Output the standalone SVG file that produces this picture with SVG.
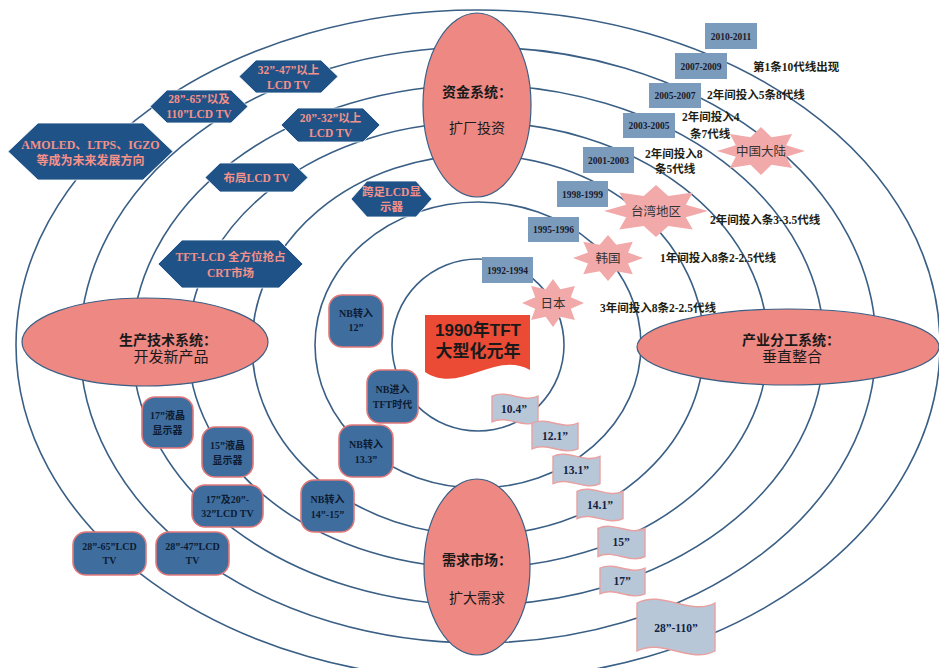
<svg xmlns="http://www.w3.org/2000/svg" xmlns:xlink="http://www.w3.org/1999/xlink" width="939" height="668" viewBox="0 0 939 668">
<style>
.ring{fill:none;stroke:#3A5F85;stroke-width:1.6}
.oval{fill:#EE8882;stroke:#3A5F85;stroke-width:1.2}
.ot{font-family:"Liberation Sans","Noto Sans CJK SC",sans-serif;font-size:14px;fill:#1a1a1a;text-anchor:middle}
.ob{font-weight:bold}
.hex{fill:#1F5287;stroke:#ffffff;stroke-width:0.8}
.ht{font-family:"Liberation Serif","Noto Sans CJK SC",serif;font-size:11.5px;font-weight:bold;fill:#F3918A;text-anchor:middle}
.rr{fill:#3F6E9E;stroke:#E27878;stroke-width:1.6}
.rt{font-family:"Liberation Serif","Noto Sans CJK SC",serif;font-size:10px;font-weight:bold;fill:#0d1b33;text-anchor:middle}
.yr{fill:#7B9BBD}
.yt{font-family:"Liberation Serif","Noto Sans CJK SC",serif;font-size:9.5px;font-weight:bold;fill:#1a1a2a;text-anchor:middle}
.lb{font-family:"Liberation Serif","Noto Sans CJK SC",serif;font-size:11.5px;font-weight:bold;fill:#1e1e14}
.st{fill:#F2A9A9}
.stt{font-family:"Liberation Sans","Noto Sans CJK SC",sans-serif;font-size:12.5px;fill:#333;text-anchor:middle}
.fl{fill:#B8C7D8;stroke:#E8A0A0;stroke-width:1.4}
.ft{font-family:"Liberation Serif","Noto Sans CJK SC",serif;font-size:11.5px;font-weight:bold;fill:#14213d;text-anchor:middle}
</style>
<defs>
<polygon id="star" points="0,-1 0.237,-0.573 0.707,-0.707 0.573,-0.237 1,0 0.573,0.237 0.707,0.707 0.237,0.573 0,1 -0.237,0.573 -0.707,0.707 -0.573,0.237 -1,0 -0.573,-0.237 -0.707,-0.707 -0.237,-0.573"/>
<path id="wave" vector-effect="non-scaling-stroke" d="M0,0.1 C0.33,-0.12 0.67,0.32 1,0.1 L1,0.9 C0.67,1.12 0.33,0.68 0,0.9 Z"/>
</defs>
<rect x="0" y="0" width="939" height="668" fill="#ffffff"/>
<g id="connectors">
<ellipse class="ring" cx="478" cy="345" rx="86" ry="86"/>
<ellipse class="ring" cx="478" cy="345" rx="163" ry="143"/>
<ellipse class="ring" cx="478" cy="345" rx="226" ry="190"/>
<ellipse class="ring" cx="478" cy="345" rx="290" ry="223"/>
<ellipse class="ring" cx="478" cy="345" rx="346" ry="260"/>
<ellipse class="ring" cx="478" cy="345" rx="398" ry="298"/>
<ellipse class="ring" cx="478" cy="345" rx="462" ry="335"/>
</g>
<g id="fund">
<ellipse class="oval" cx="477" cy="105" rx="54" ry="92"/>
<text class="ot ob" x="477" y="97">资金系统：</text>
<text class="ot" x="477" y="133">扩厂投资</text>
</g>
<g id="demand">
<ellipse class="oval" cx="477" cy="567" rx="53" ry="88"/>
<text class="ot ob" x="477" y="565">需求市场：</text>
<text class="ot" x="477" y="603">扩大需求</text>
</g>
<g id="prodtech">
<ellipse class="oval" cx="145" cy="342" rx="123" ry="44"/>
<text class="ot ob" x="168" y="345">生产技术系统：</text>
<text class="ot" x="171" y="362" style="font-size:15px">开发新产品</text>
</g>
<g id="industry">
<ellipse class="oval" cx="788" cy="347" rx="151" ry="38"/>
<text class="ot ob" x="791" y="345">产业分工系统：</text>
<text class="ot" x="792" y="362" style="font-size:15px">垂直整合</text>
</g>
<g id="center">
<path d="M425,315 H530 V370 C495,350 460,395 425,372 Z" fill="#EB4A35"/>
<text class="ot ob" x="478" y="336" style="font-size:17px">1990年TFT</text>
<text class="ot ob" x="478" y="357" style="font-size:17px">大型化元年</text>
</g>
<g id="hex-amoled">
<path class="hex" d="M8,151.5 L38,123 L143,123 L173,151.5 L143,180 L38,180 Z"/>
<text class="ht" x="90.5" y="149" style="font-size:12px">AMOLED、LTPS、IGZO</text>
<text class="ht" x="90.5" y="165" style="font-size:12px">等成为未来发展方向</text>
</g>
<g id="hex-28-65">
<path class="hex" d="M150,106.5 L167,90 L231,90 L248,106.5 L231,123 L167,123 Z"/>
<text class="ht" x="199" y="103">28”-65”以及</text>
<text class="ht" x="199" y="118">110”LCD TV</text>
</g>
<g id="hex-32-47">
<path class="hex" d="M239,76.5 L256,60 L321,60 L338,76.5 L321,93 L256,93 Z"/>
<text class="ht" x="288.5" y="74">32”-47”以上</text>
<text class="ht" x="288.5" y="89">LCD TV</text>
</g>
<g id="hex-20-32">
<path class="hex" d="M281,125 L298,108 L363,108 L380,125 L363,142 L298,142 Z"/>
<text class="ht" x="330.5" y="122">20”-32”以上</text>
<text class="ht" x="330.5" y="137">LCD TV</text>
</g>
<g id="hex-layout">
<path class="hex" d="M205,177.5 L220,163 L293,163 L308,177.5 L293,192 L220,192 Z"/>
<text class="ht" x="256.5" y="181.5">布局LCD TV</text>
</g>
<g id="hex-tft">
<path class="hex" d="M158,264 L182,240 L279,240 L303,264 L279,288 L182,288 Z"/>
<text class="ht" x="230.5" y="261">TFT-LCD 全方位抢占</text>
<text class="ht" x="230.5" y="277">CRT市场</text>
</g>
<g id="hex-monitor">
<path class="hex" d="M351,199 L367,181 L416,181 L432,199 L416,217 L367,217 Z"/>
<text class="ht" x="391.5" y="196">跨足LCD显</text>
<text class="ht" x="391.5" y="211">示器</text>
</g>
<g id="rr-nb12">
<rect class="rr" x="329" y="295" width="54" height="52" rx="13"/>
<text class="rt" x="356" y="317">NB转入</text>
<text class="rt" x="356" y="331">12”</text>
</g>
<g id="rr-nbtft">
<rect class="rr" x="367" y="370" width="51" height="53" rx="13"/>
<text class="rt" x="392.5" y="393">NB进入</text>
<text class="rt" x="392.5" y="408">TFT时代</text>
</g>
<g id="rr-nb133">
<rect class="rr" x="339" y="425" width="54" height="52" rx="13"/>
<text class="rt" x="366" y="448">NB转入</text>
<text class="rt" x="366" y="463">13.3”</text>
</g>
<g id="rr-nb1415">
<rect class="rr" x="301" y="480" width="53" height="52" rx="13"/>
<text class="rt" x="327.5" y="503">NB转入</text>
<text class="rt" x="327.5" y="518">14”-15”</text>
</g>
<g id="rr-17mon">
<rect class="rr" x="142" y="397" width="51" height="51" rx="13"/>
<text class="rt" x="167.5" y="419">17”液晶</text>
<text class="rt" x="167.5" y="434">显示器</text>
</g>
<g id="rr-15mon">
<rect class="rr" x="202" y="427" width="51" height="50" rx="13"/>
<text class="rt" x="227.5" y="449">15”液晶</text>
<text class="rt" x="227.5" y="464">显示器</text>
</g>
<g id="rr-17-32tv">
<rect class="rr" x="192" y="485" width="71" height="42" rx="13"/>
<text class="rt" x="227.5" y="503">17”及20”-</text>
<text class="rt" x="227.5" y="517">32”LCD TV</text>
</g>
<g id="rr-28-65tv">
<rect class="rr" x="73" y="532" width="73" height="43" rx="13"/>
<text class="rt" x="109.5" y="550">28”-65”LCD</text>
<text class="rt" x="109.5" y="564">TV</text>
</g>
<g id="rr-28-47tv">
<rect class="rr" x="156" y="532" width="73" height="43" rx="13"/>
<text class="rt" x="192.5" y="550">28”-47”LCD</text>
<text class="rt" x="192.5" y="564">TV</text>
</g>
<g id="y2010">
<rect class="yr" x="705" y="23" width="52" height="26"/>
<text class="yt" x="731" y="39.5">2010-2011</text>
</g>
<g id="y2007">
<rect class="yr" x="675" y="53" width="52" height="26"/>
<text class="yt" x="701" y="69.5">2007-2009</text>
</g>
<g id="y2005">
<rect class="yr" x="649" y="83" width="52" height="25"/>
<text class="yt" x="675" y="99">2005-2007</text>
</g>
<g id="y2003">
<rect class="yr" x="623" y="113" width="52" height="25"/>
<text class="yt" x="649" y="129">2003-2005</text>
</g>
<g id="y2001">
<rect class="yr" x="583" y="147" width="51" height="26"/>
<text class="yt" x="608.5" y="163.5">2001-2003</text>
</g>
<g id="y1998">
<rect class="yr" x="557" y="181" width="51" height="26"/>
<text class="yt" x="582.5" y="197.5">1998-1999</text>
</g>
<g id="y1995">
<rect class="yr" x="528" y="217" width="51" height="25"/>
<text class="yt" x="553.5" y="233">1995-1996</text>
</g>
<g id="y1992">
<rect class="yr" x="482" y="257" width="51" height="26"/>
<text class="yt" x="507.5" y="273.5">1992-1994</text>
</g>
<g id="star-cn">
<use href="#star" class="st" transform="translate(761,151) scale(44,24)"/>
<text class="stt" x="761" y="155.5">中国大陆</text>
</g>
<g id="star-tw">
<use href="#star" class="st" transform="translate(656,211) scale(52,26)"/>
<text class="stt" x="656" y="215.5">台湾地区</text>
</g>
<g id="star-kr">
<use href="#star" class="st" transform="translate(608,258) scale(35,23)"/>
<text class="stt" x="608" y="262.5">韩国</text>
</g>
<g id="star-jp">
<use href="#star" class="st" transform="translate(553,303) scale(31,24)"/>
<text class="stt" x="553" y="307.5">日本</text>
</g>
<g id="labels">
<text class="lb" x="753" y="71">第1条10代线出现</text>
<text class="lb" x="707" y="99">2年间投入5条8代线</text>
<text class="lb" x="682" y="121">2年间投入4</text>
<text class="lb" x="690" y="138">条7代线</text>
<text class="lb" x="645" y="158">2年间投入8</text>
<text class="lb" x="655" y="173">条5代线</text>
<text class="lb" x="710" y="224">2年间投入条3-3.5代线</text>
<text class="lb" x="660" y="262">1年间投入8条2-2.5代线</text>
<text class="lb" x="600" y="312">3年间投入8条2-2.5代线</text>
</g>
<g id="f104">
<use href="#wave" class="fl" transform="translate(492,393) scale(46,32)"/>
<text class="ft" x="514" y="413">10.4”</text>
</g>
<g id="f121">
<use href="#wave" class="fl" transform="translate(532,420) scale(46,32)"/>
<text class="ft" x="555" y="440">12.1”</text>
</g>
<g id="f131">
<use href="#wave" class="fl" transform="translate(553,453) scale(47,34)"/>
<text class="ft" x="576" y="474">13.1”</text>
</g>
<g id="f141">
<use href="#wave" class="fl" transform="translate(577,488) scale(46,34)"/>
<text class="ft" x="600" y="509">14.1”</text>
</g>
<g id="f15">
<use href="#wave" class="fl" transform="translate(598,525) scale(47,35)"/>
<text class="ft" x="621" y="546">15”</text>
</g>
<g id="f17">
<use href="#wave" class="fl" transform="translate(600,565) scale(45,32)"/>
<text class="ft" x="622" y="585">17”</text>
</g>
<g id="f28110">
<use href="#wave" class="fl" transform="translate(637,597) scale(78,60)"/>
<text class="ft" x="676" y="632">28”-110”</text>
</g>
</svg>
